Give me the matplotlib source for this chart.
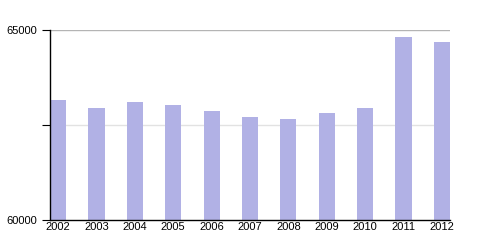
import numpy as np
from matplotlib import pyplot as plt

plt.rcParams.update({
    'font.family': ['Liberation Sans', 'DejaVu Sans'],
    'font.size': 8,
})

years = ['2002', '2003', '2004', '2005', '2006', '2007', '2008', '2009', '2010', '2011', '2012']
values = [63160, 62955, 63105, 63025, 62880, 62710, 62650, 62815, 62955, 64815, 64685]

bar_color = '#b1b1e5'
width = 0.42

fig = plt.figure(figsize=(5, 2.5), dpi=100)
ax = fig.add_axes([0.1, 0.12, 0.8, 0.76])

x = np.arange(len(years))
ax.bar(x, values, width=width, color=bar_color, zorder=2)

ax.set_xlim(-width / 2, len(years) - 1 + width / 2)
ax.set_ylim(60000, 65000)
ax.set_xticks(x)
ax.set_xticklabels(years)
ax.set_yticks([60000, 62500, 65000])
ax.set_yticklabels(['60000', '', '65000'])

ax.axhline(65000, color='#b4b4b4', lw=1, zorder=1)
ax.axhline(62500, color='#e2e2e2', lw=1, zorder=1)

ax.spines['top'].set_visible(False)
ax.spines['right'].set_visible(False)
ax.spines['left'].set_linewidth(1)
ax.spines['bottom'].set_linewidth(1)
ax.tick_params(axis='x', length=0, pad=1.5)
ax.tick_params(axis='y', length=6, width=0.8, pad=3)

fig.savefig('out.png', dpi=100)
